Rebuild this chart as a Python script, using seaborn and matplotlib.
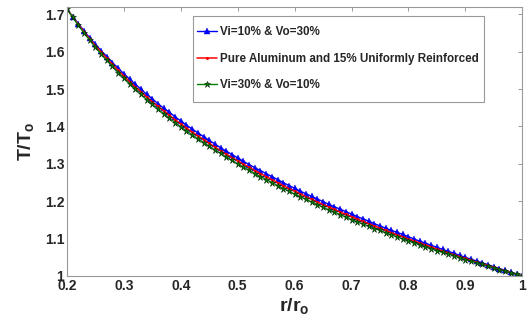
import numpy as np
import pandas as pd
import matplotlib
matplotlib.use("Agg")
import matplotlib.pyplot as plt
import seaborn as sns

r = [round(0.20 + 0.01 * i, 2) for i in range(81)]

blue = [1.715, 1.694, 1.675, 1.656, 1.637, 1.620, 1.603, 1.587, 1.571, 1.556,
        1.541, 1.527, 1.513, 1.500, 1.486, 1.474, 1.461, 1.449, 1.438, 1.426,
        1.415, 1.404, 1.393, 1.383, 1.373, 1.363, 1.353, 1.343, 1.334, 1.325,
        1.316, 1.307, 1.298, 1.290, 1.282, 1.274, 1.266, 1.258, 1.250, 1.242,
        1.235, 1.227, 1.220, 1.213, 1.206, 1.199, 1.192, 1.185, 1.179, 1.172,
        1.166, 1.159, 1.153, 1.147, 1.140, 1.134, 1.128, 1.122, 1.117, 1.111,
        1.105, 1.099, 1.093, 1.088, 1.082, 1.077, 1.071, 1.066, 1.061, 1.055,
        1.050, 1.045, 1.040, 1.035, 1.030, 1.025, 1.020, 1.015, 1.010, 1.005,
        1.000]

red = [1.715, 1.693, 1.673, 1.653, 1.634, 1.616, 1.599, 1.582, 1.566, 1.550,
       1.535, 1.520, 1.506, 1.493, 1.479, 1.466, 1.454, 1.442, 1.430, 1.418,
       1.407, 1.396, 1.385, 1.375, 1.365, 1.355, 1.345, 1.335, 1.326, 1.317,
       1.308, 1.299, 1.291, 1.282, 1.274, 1.266, 1.258, 1.250, 1.242, 1.234,
       1.227, 1.220, 1.212, 1.205, 1.198, 1.191, 1.185, 1.178, 1.171, 1.165,
       1.159, 1.152, 1.146, 1.140, 1.134, 1.128, 1.122, 1.116, 1.110, 1.105,
       1.099, 1.094, 1.088, 1.083, 1.078, 1.072, 1.067, 1.062, 1.057, 1.052,
       1.047, 1.042, 1.037, 1.032, 1.028, 1.023, 1.018, 1.014, 1.009, 1.005,
       1.000]

green = [1.715, 1.692, 1.671, 1.650, 1.631, 1.612, 1.594, 1.577, 1.561, 1.544,
         1.529, 1.514, 1.500, 1.486, 1.472, 1.459, 1.446, 1.434, 1.422, 1.410,
         1.399, 1.388, 1.377, 1.367, 1.357, 1.347, 1.337, 1.328, 1.318, 1.309,
         1.300, 1.291, 1.283, 1.274, 1.266, 1.258, 1.250, 1.242, 1.234, 1.227,
         1.219, 1.212, 1.205, 1.198, 1.191, 1.184, 1.177, 1.171, 1.164, 1.158,
         1.151, 1.145, 1.139, 1.133, 1.127, 1.122, 1.116, 1.110, 1.105, 1.099,
         1.094, 1.089, 1.083, 1.078, 1.073, 1.068, 1.063, 1.059, 1.054, 1.049,
         1.044, 1.040, 1.035, 1.031, 1.026, 1.022, 1.017, 1.013, 1.008, 1.004,
         1.000]

labels = ["Vi=10% & Vo=30%",
          "Pure Aluminum and 15% Uniformly Reinforced",
          "Vi=30% & Vo=10%"]

xticks = [0.2, 0.3, 0.4, 0.5, 0.6, 0.7, 0.8, 0.9, 1.0]
xticklabels = ["0.2", "0.3", "0.4", "0.5", "0.6", "0.7", "0.8", "0.9", "1"]
yticks = [1.0, 1.1, 1.2, 1.3, 1.4, 1.5, 1.6, 1.7]
yticklabels = ["1", "1.1", "1.2", "1.3", "1.4", "1.5", "1.6", "1.7"]

sns.set_style("white")
plt.rcParams["font.family"] = ["Liberation Sans", "DejaVu Sans"]
plt.rcParams["mathtext.fontset"] = "custom"
plt.rcParams["mathtext.rm"] = "Liberation Sans:bold"
plt.rcParams["mathtext.bf"] = "Liberation Sans:bold"
plt.rcParams["mathtext.it"] = "Liberation Sans:bold"

fig = plt.figure(figsize=(5.27, 3.27), dpi=100)
ax = fig.add_axes([0.127, 0.156, 0.864, 0.823])

df_b = pd.DataFrame({"r": r, "T": blue})
df_r = pd.DataFrame({"r": r, "T": red})
df_g = pd.DataFrame({"r": r, "T": green})

sns.lineplot(data=df_b, x="r", y="T", ax=ax, color="#0000ff", marker="^",
             markersize=5, markeredgewidth=0.3, markeredgecolor="#0000cc",
             linewidth=1.0, label=labels[0])
sns.lineplot(data=df_r, x="r", y="T", ax=ax, color="#ff0000", marker="o",
             markersize=2.2, markeredgewidth=0, linewidth=1.1, label=labels[1])
sns.lineplot(data=df_g, x="r", y="T", ax=ax, color="#008000", marker="*",
             markersize=5, markeredgewidth=0.4, markeredgecolor="#002200",
             linewidth=1.0, label=labels[2])

ax.set_xlim(0.2, 1.0)
ax.set_ylim(1.0, 1.72)
ax.set_xticks(xticks)
ax.set_xticklabels(xticklabels)
ax.set_yticks(yticks)
ax.set_yticklabels(yticklabels)
ax.tick_params(direction="in", length=3, width=0.6, color="#888888",
               top=True, right=True, labelsize=10, pad=2)
for lab in ax.get_xticklabels() + ax.get_yticklabels():
    lab.set_fontweight("bold")
for sp in ax.spines.values():
    sp.set_color("#999999")
    sp.set_linewidth(0.8)

ax.set_xlabel(r"r/r$_\mathrm{o}$", fontsize=14, fontweight="bold", labelpad=2)
ax.set_ylabel(r"T/T$_\mathrm{o}$", fontsize=14, fontweight="bold", labelpad=6)

leg = ax.legend(loc="upper left", bbox_to_anchor=(0.250, 0.989),
                prop={"weight": "bold", "size": 8.4}, handlelength=1.7,
                handletextpad=0.3, labelspacing=1.25, borderpad=0.9,
                frameon=True, fancybox=False, framealpha=1.0)
frame = leg.get_frame()
frame.set_boxstyle("square", pad=-0.52)
frame.set_mutation_aspect(0.01)
frame.set_edgecolor("#999999")
frame.set_linewidth(0.8)

fig.savefig("out.png", dpi=100)
